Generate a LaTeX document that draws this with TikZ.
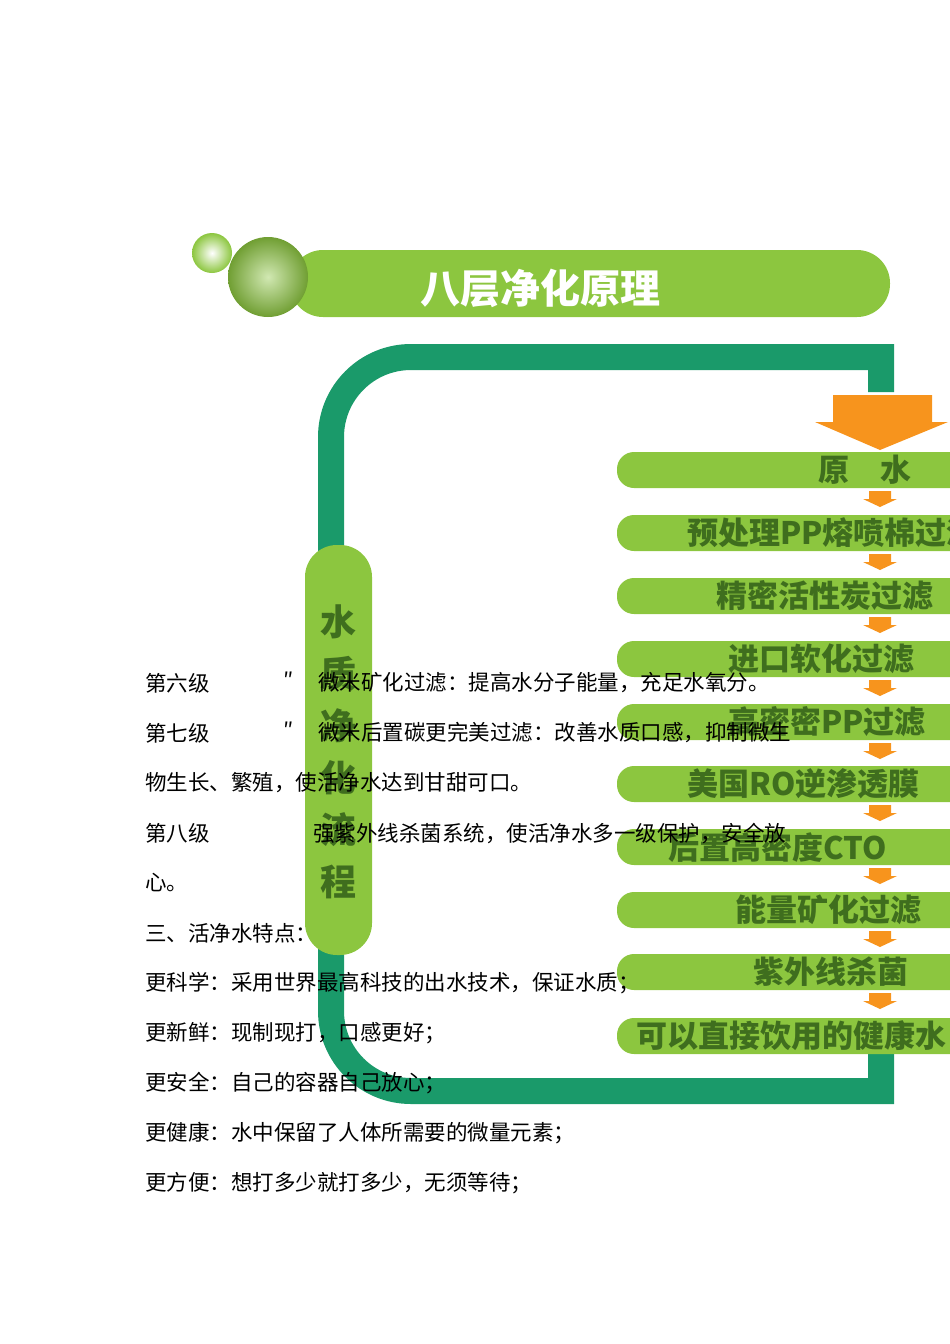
\documentclass[tikz,border=0pt]{standalone}
\usepackage{fontspec}
\newfontfamily\cjk{Noto Sans CJK SC}
\definecolor{lg}{HTML}{8CC63F}
\definecolor{dg}{HTML}{3F6E1E}
\definecolor{tl}{HTML}{1A9A6A}
\definecolor{og}{HTML}{F7941D}
\tikzset{bar/.style={fill=lg,rounded corners=17pt},
 bartxt/.style={anchor=west,font=\cjk\bfseries\fontsize{31}{31}\selectfont,text=dg,inner sep=0},
 body/.style={anchor=west,font=\cjk\fontsize{21.5}{21.5}\selectfont,inner sep=0},
 small/.style={fill=og}}
\begin{document}
\begin{tikzpicture}[x=1pt,y=-1pt]
\useasboundingbox (0,0) rectangle (950,1344);
\begin{scope}
\clip (0,0) rectangle (950,1344);
% title
\fill[lg,rounded corners=33pt] (290,250) rectangle (890,317);
\node[font=\cjk\bfseries\fontsize{40}{40}\selectfont,text=white] (title) at (540,288) {八层净化原理};
\shade[inner color=white,outer color=lg] (212,253) circle (20);
\shade[inner color=white!60!lg,outer color=lg!80!black] (268,277) circle (40);
% frame
\draw[tl,line width=26pt] (881,392) -- (881,357) -- (420,357) [rounded corners=80pt] -- (331,357) -- (331,1091) [sharp corners] -- (420,1091) -- (881,1091) -- (881,1050);
% pill
\fill[lg,rounded corners=32pt] (305,545) rectangle (372,955);
\foreach \c [count=\i] in {水,质,净,化,流,程}
  \node[font=\cjk\bfseries\fontsize{36}{36}\selectfont,text=dg] (p\i) at (338,622+52*\i-52) {\c};
% big arrow
\fill[og] (833,395) -- (932,395) -- (932,422) -- (948,422) -- (880,450) -- (815,422) -- (833,422) -- cycle;
% bars
\foreach \y/\x/\t [count=\i] in {470/818/原\quad 水,533/687/预处理PP熔喷棉过滤,596/716/精密活性炭过滤,659/728/进口软化过滤,722/728/高密密PP过滤,784/687/美国RO逆渗透膜,847/668/后置高密度CTO,910/735/能量矿化过滤,972/753/紫外线杀菌,1036/636/可以直接饮用的健康水}{
  \fill[bar] (617,\y-18) rectangle (990,\y+18);
  \node[bartxt] (b\i) at (\x,\y) {\t};
}
\foreach \y in {491,554,617,680,743,805,868,931,993}
  \fill[og] (869,\y) -- (891,\y) -- (891,\y+8) -- (897,\y+8) -- (880,\y+16) -- (863,\y+8) -- (869,\y+8) -- cycle;
\end{scope}
% body text
\node[body] (t1) at (145,683) {第六级};
\node[body] (t1a) at (283,680) {″};
\node[body] (t1b) at (318,683) {微米矿化过滤：提高水分子能量，充足水氧分。};
\node[body] (t2) at (145,733) {第七级};
\node[body] (t2a) at (283,730) {″};
\node[body] (t2b) at (318,733) {微米后置碳更完美过滤：改善水质口感，抑制微生};
\node[body] (t3) at (145,783) {物生长、繁殖，使活净水达到甘甜可口。};
\node[body] (t4) at (145,833) {第八级};
\node[body] (t4b) at (313,833) {强紫外线杀菌系统，使活净水多一级保护，安全放};
\node[body] (t5) at (145,883) {心。};
\node[body] (t6) at (145,933) {三、活净水特点：};
\node[body] (t7) at (145,983) {更科学：采用世界最高科技的出水技术，保证水质；};
\node[body] (t8) at (145,1033) {更新鲜：现制现打，口感更好；};
\node[body] (t9) at (145,1083) {更安全：自己的容器自己放心；};
\node[body] (t10) at (145,1133) {更健康：水中保留了人体所需要的微量元素；};
\node[body] (t11) at (145,1183) {更方便：想打多少就打多少，无须等待；};
\end{tikzpicture}
\end{document}
